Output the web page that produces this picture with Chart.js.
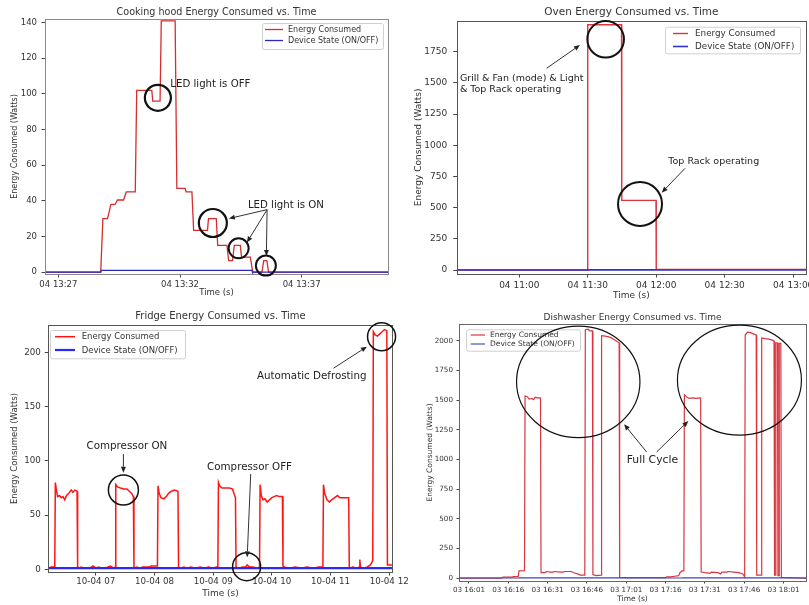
<!DOCTYPE html>
<html>
<head>
<meta charset="utf-8">
<script src="https://cdn.jsdelivr.net/npm/chart.js@4.4.1/dist/chart.umd.min.js"></script>
<style>
html, body { margin: 0; padding: 0; background: #fff; overflow: hidden; width: 809px; height: 605px; }
canvas { position: absolute; }
</style>
</head>
<body>
<canvas id="hood" width="400" height="300" style="left:0px;top:0px"></canvas>
<canvas id="oven" width="440" height="305" style="left:400px;top:0px"></canvas>
<canvas id="fridge" width="420" height="305" style="left:0px;top:300px"></canvas>
<canvas id="dish" width="409" height="305" style="left:400px;top:300px"></canvas>
<script>
// ---- cooking hood (minutes after 13:27) ----
const hoodTime   = [-0.55, 1.74, 1.83, 2.02, 2.16, 2.33, 2.43, 2.68, 2.79, 3.16, 3.22, 3.84, 3.88, 4.18, 4.23, 4.80, 4.87, 5.21, 5.25, 5.49, 5.56, 6.13, 6.17, 6.49, 6.55, 6.93, 7.00, 7.16, 7.23, 7.48, 7.53, 7.89, 7.99, 8.37, 8.44, 8.57, 8.64, 13.55];
const hoodEnergy = [0, 0, 30, 30, 38, 38, 40.5, 40.5, 45, 45, 102, 102, 96, 96, 141, 141, 47, 47, 45, 45, 23.5, 23.5, 30, 30, 15, 15, 6.5, 6.5, 15, 15, 8.5, 8.5, 0, 0, 6.5, 6.5, 0, 0];
const hoodStateTime = [-0.55, 1.74, 1.76, 7.96, 7.98, 13.55];
const hoodState     = [0, 0, 1, 1, 0, 0];
const hoodXTicks  = [0, 5, 10];
const hoodXLabels = ['04 13:27', '04 13:32', '04 13:37'];
const hoodYTicks  = [0, 20, 40, 60, 80, 100, 120, 140];

// ---- oven (minutes after 11:00) ----
const ovenTime   = [-27.4, 29.9, 30.0, 44.8, 44.9, 59.9, 60.0, 125.6];
const ovenEnergy = [0, 0, 1965, 1965, 558, 558, 5, 5];
const ovenStateTime = [-27.4, 30, 30, 60, 60, 125.6];
const ovenState     = [0, 0, 1, 1, 0, 0];
const ovenXTicks  = [0, 30, 60, 90, 120];
const ovenXLabels = ['04 11:00', '04 11:30', '04 12:00', '04 12:30', '04 13:00'];
const ovenYTicks  = [0, 250, 500, 750, 1000, 1250, 1500, 1750];

// ---- fridge (hour of day) ----
const fridgeTime = [6.19,6.24,6.30,6.31,6.33,6.35,6.38,6.41,6.44,6.47,6.50,6.54,6.58,6.61,6.64,6.68,6.69,6.72,6.75,6.80,6.85,6.90,6.95,7.00,7.05,7.10,7.20,7.25,7.30,7.33,
  7.34,7.37,7.42,7.48,7.53,7.57,7.61,7.64,7.65,7.70,7.75,7.80,7.90,7.95,8.00,8.05,
  8.06,8.08,8.11,8.16,8.20,8.24,8.29,8.34,8.40,8.41,8.45,8.50,8.55,8.62,8.70,8.78,8.85,8.92,9.00,9.05,9.08,
  9.09,9.11,9.15,9.22,9.28,9.33,9.36,9.38,9.39,9.44,9.50,9.55,9.58,9.62,9.68,9.75,9.79,
  9.80,9.82,9.85,9.88,9.92,9.96,10.00,10.04,10.08,10.13,10.18,10.19,10.22,10.30,10.40,10.50,10.60,10.70,10.80,10.87,
  10.88,10.90,10.94,10.98,11.02,11.07,11.12,11.16,11.22,11.31,11.32,11.38,11.45,11.49,11.50,11.51,11.56,11.62,11.68,11.70,11.72,
  11.73,11.76,11.80,11.84,11.88,11.92,11.96,11.97,12.06];
const fridgeEnergy = [1,2,2,80,72,67,68,66,67,64,68,70,73,71,73,72,2,1,2,1,1,1,3,1,2,1,2,3,1,2,
  78,76,75,74,74,72,70,67,1,2,1,2,2,3,3,3,
  77,70,66,65,67,70,72,73,72,2,1,2,1,2,1,2,1,2,1,2,2,
  80,77,75,75,75,74,69,66,2,1,2,2,4,2,2,1,2,
  78,68,64,65,62,64,66,67,68,67,67,3,2,1,2,1,2,1,2,2,
  78,70,64,62,64,66,68,66,66,66,1,2,1,2,9,2,1,2,4,6,8,
  219,216,215,217,219,221,220,4,4];
const fridgeStateTime = [6.19, 12.06];
const fridgeState     = [1, 1];
const fridgeXTicks  = [7, 8, 9, 10, 11, 12];
const fridgeXLabels = ['10-04 07', '10-04 08', '10-04 09', '10-04 10', '10-04 11', '10-04 12'];
const fridgeYTicks  = [0, 50, 100, 150, 200];

// ---- dishwasher (minutes after 16:01) ----
const dishTime = [-3.8,12.5,13.0,16.5,17.0,18.8,19.1,21.2,21.4,22.3,23.0,24.0,24.6,25.3,26.0,27.3,27.5,29.0,29.5,31.0,
  32.0,32.5,35.0,36.0,36.5,39.0,40.0,41.5,42.5,44.2,44.4,45.5,46.0,47.1,47.3,48.5,50.4,50.6,52.0,54.0,
  55.5,56.5,57.3,57.5,60.0,75.0,75.5,77.0,78.5,80.0,80.5,81.3,82.0,82.2,83.0,84.0,85.5,86.5,88.4,88.6,
  90.0,92.0,92.5,95.0,96.0,96.5,98.5,99.0,101.0,103.0,104.5,105.2,105.4,106.3,107.5,108.5,109.6,109.8,111.5,111.7,
  113.0,114.5,116.0,116.4,116.6,117.0,117.1,117.7,117.9,118.3,118.4,119.0,119.2,122.0,128.6];
const dishEnergy = [0,0,8,8,12,14,60,62,1535,1530,1510,1515,1505,1525,1520,1520,45,45,55,50,
  50,55,50,50,55,55,45,35,25,25,2095,2100,2085,2085,30,20,25,2045,2040,2030,
  2010,1995,1985,5,3,3,10,10,15,20,45,60,60,1545,1530,1515,1520,1515,1520,50,
  45,40,50,45,35,50,50,55,50,45,35,10,2050,2075,2070,2060,2050,25,25,2025,
  2020,2015,2005,2000,25,25,1985,1985,20,20,1980,1980,5,3,0];
const dishStateTime = [-3.8, 19.1, 19.1, 57.5, 57.5, 81.3, 81.3, 119.2, 119.2, 128.6];
const dishState     = [0, 0, 1, 1, 0, 0, 1, 1, 0, 0];
const dishXTicks  = [0, 15, 30, 45, 60, 75, 90, 105, 120];
const dishXLabels = ['03 16:01', '03 16:16', '03 16:31', '03 16:46', '03 17:01', '03 17:16', '03 17:31', '03 17:46', '03 18:01'];
const dishYTicks  = [0, 250, 500, 750, 1000, 1250, 1500, 1750, 2000];

const FONT = 'DejaVu Sans';

// frame, title, legend and annotations drawn on top
const deco = {
  id: 'deco',
  afterDraw(chart, args, o) {
    const ctx = chart.ctx, a = chart.chartArea, sx = chart.scales.x, sy = chart.scales.y;
    const X = v => sx.getPixelForValue(v), Y = v => sy.getPixelForValue(v);
    ctx.save();
    ctx.strokeStyle = o.frame;
    ctx.lineWidth = 1;
    ctx.strokeRect(Math.round(a.left) + 0.5, Math.round(a.top) + 0.5, Math.round(a.right - a.left), Math.round(a.bottom - a.top));

    ctx.fillStyle = '#333';
    ctx.font = o.titleSize + 'px ' + FONT;
    ctx.textAlign = 'center';
    ctx.textBaseline = 'middle';
    ctx.fillText(o.title, (a.left + a.right) / 2, o.titleY);

    // legend box
    const L = o.legend;
    ctx.fillStyle = 'rgba(255,255,255,0.85)';
    ctx.strokeStyle = '#d0d0d0';
    ctx.beginPath();
    ctx.roundRect(L.x + 0.5, L.y + 0.5, L.w, L.h, 2);
    ctx.fill();
    ctx.stroke();
    ctx.font = L.font + 'px ' + FONT;
    ctx.textAlign = 'left';
    chart.data.datasets.slice().reverse().forEach((ds, i) => {
      const yy = L.rows[i];
      ctx.strokeStyle = ds.borderColor;
      ctx.lineWidth = ds.borderWidth;
      ctx.beginPath();
      ctx.moveTo(L.x1, yy);
      ctx.lineTo(L.x2, yy);
      ctx.stroke();
      ctx.fillStyle = '#333';
      ctx.fillText(ds.label, L.tx, yy + 0.5);
    });

    // annotations
    ctx.strokeStyle = '#111';
    ctx.fillStyle = '#111';
    ctx.font = o.noteSize + 'px ' + FONT;
    o.notes.forEach(n => {
      if (n.c === 'circle' || n.c === 'ellipse') {
        ctx.lineWidth = n.w;
        ctx.beginPath();
        ctx.ellipse(X(n.x), Y(n.y), n.rx || n.r, n.ry || n.r, 0, 0, Math.PI * 2);
        ctx.stroke();
      } else if (n.c === 'text') {
        ctx.fillStyle = '#222';
        ctx.textAlign = n.align || 'center';
        ctx.fillText(n.text, X(n.x), Y(n.y));
      } else if (n.c === 'arrow') {
        const x1 = X(n.x1), y1 = Y(n.y1), x2 = X(n.x2), y2 = Y(n.y2);
        const ang = Math.atan2(y2 - y1, x2 - x1);
        const hl = 6, hw = 2.5;
        ctx.strokeStyle = '#333';
        ctx.fillStyle = '#222';
        ctx.lineWidth = 1;
        ctx.beginPath();
        ctx.moveTo(x1, y1);
        ctx.lineTo(x2 - hl * Math.cos(ang), y2 - hl * Math.sin(ang));
        ctx.stroke();
        ctx.beginPath();
        ctx.moveTo(x2, y2);
        ctx.lineTo(x2 - hl * Math.cos(ang) + hw * Math.sin(ang), y2 - hl * Math.sin(ang) - hw * Math.cos(ang));
        ctx.lineTo(x2 - hl * Math.cos(ang) - hw * Math.sin(ang), y2 - hl * Math.sin(ang) + hw * Math.cos(ang));
        ctx.closePath();
        ctx.fill();
        ctx.strokeStyle = '#111';
      }
    });
    ctx.restore();
  }
};

function pts(xs, ys) {
  return xs.map((t, i) => ({ x: t, y: ys[i] }));
}

function panel(id, p) {
  const cv = document.getElementById(id);
  const W = cv.width, H = cv.height;
  return new Chart(cv, {
    type: 'line',
    data: {
      datasets: [
        { label: 'Device State (ON/OFF)', data: pts(p.stateT, p.state), borderColor: p.blue, borderWidth: p.blueW },
        { label: 'Energy Consumed', data: pts(p.t, p.e), borderColor: p.red, borderWidth: p.redW }
      ]
    },
    options: {
      responsive: false,
      animation: false,
      devicePixelRatio: 1,
      layout: { padding: { left: 0, top: p.area.top, right: W - p.area.right, bottom: 0 } },
      elements: { point: { radius: 0 }, line: { tension: 0, fill: false, borderJoinStyle: 'miter' } },
      plugins: {
        legend: { display: false },
        tooltip: { enabled: false },
        deco: p.deco
      },
      scales: {
        x: {
          type: 'linear', min: p.xMin, max: p.xMax,
          afterBuildTicks: ax => { ax.ticks = p.xTicks.map(v => ({ value: v })); },
          afterFit: s => { s.height = H - p.area.bottom; },
          ticks: {
            autoSkip: false, maxRotation: 0, minRotation: 0,
            font: { family: FONT, size: p.tickSize }, color: '#333', padding: p.xPad,
            callback: v => p.xLabels[p.xTicks.indexOf(v)]
          },
          grid: { display: true, drawOnChartArea: false, drawTicks: true, tickLength: p.tickLen, tickColor: '#444' },
          border: { display: false },
          title: { display: true, text: 'Time (s)', color: '#333', font: { family: FONT, size: p.xTitleSize }, padding: { top: 0, bottom: p.xTitlePad } }
        },
        y: {
          type: 'linear', min: p.yMin, max: p.yMax,
          afterBuildTicks: ax => { ax.ticks = p.yTicks.map(v => ({ value: v })); },
          afterFit: s => { s.width = p.area.left; },
          ticks: {
            font: { family: FONT, size: p.yTickSize || p.tickSize }, color: '#333', padding: p.yPad,
            callback: v => String(v)
          },
          grid: { display: true, drawOnChartArea: false, drawTicks: true, tickLength: p.tickLen, tickColor: '#444' },
          border: { display: false },
          title: { display: true, text: 'Energy Consumed (Watts)', color: '#333', font: { family: FONT, size: p.yTitleSize }, padding: { top: p.yTitlePad, bottom: 0 } }
        }
      }
    },
    plugins: [deco]
  });
}

panel('hood', {
  t: hoodTime, e: hoodEnergy, stateT: hoodStateTime, state: hoodState,
  red: 'rgb(214,45,45)', redW: 1.3, blue: 'rgb(40,40,200)', blueW: 1.3,
  xMin: -0.55, xMax: 13.55, yMin: -1, yMax: 142,
  xTicks: hoodXTicks, xLabels: hoodXLabels, yTicks: hoodYTicks,
  area: { left: 45, top: 19, right: 388, bottom: 274 },
  tickSize: 8.5, tickLen: 3.5, xPad: 2.5, yPad: 4.5,
  xTitleSize: 8.5, xTitlePad: 2, yTitleSize: 8, yTitlePad: 10,
  deco: {
    title: 'Cooking hood Energy Consumed vs. Time', titleSize: 9.6, titleY: 12.3, noteSize: 10.2, frame: '#8a8a8a',
    legend: { x: 262, y: 23, w: 121, h: 26, rows: [29.5, 40.5], x1: 265, x2: 283, tx: 288, font: 8 },
    notes: [
      { c: 'circle', x: 4.09, y: 97.8, r: 13, w: 2.2 },
      { c: 'text', x: 4.6, y: 105.6, text: 'LED light is OFF', align: 'left' },
      { c: 'circle', x: 6.35, y: 27.6, r: 14, w: 2.2 },
      { c: 'circle', x: 7.41, y: 13.4, r: 10, w: 2 },
      { c: 'circle', x: 8.53, y: 3.7, r: 10, w: 2 },
      { c: 'text', x: 7.79, y: 37.5, text: 'LED light is ON', align: 'left' },
      { c: 'arrow', x1: 8.58, y1: 35.1, x2: 7.01, y2: 30.1 },
      { c: 'arrow', x1: 8.58, y1: 35.1, x2: 7.75, y2: 16.7 },
      { c: 'arrow', x1: 8.58, y1: 35.1, x2: 8.55, y2: 9.1 }
    ]
  }
});

panel('oven', {
  t: ovenTime, e: ovenEnergy, stateT: ovenStateTime, state: ovenState,
  red: 'rgb(222,50,60)', redW: 1.4, blue: 'rgb(50,50,200)', blueW: 1.6,
  xMin: -27.4, xMax: 125.6, yMin: -32, yMax: 1998,
  xTicks: ovenXTicks, xLabels: ovenXLabels, yTicks: ovenYTicks,
  area: { left: 56.7, top: 20.7, right: 406, bottom: 274 },
  tickSize: 9, tickLen: 3.5, xPad: 2.5, yPad: 6,
  xTitleSize: 9, xTitlePad: 3.5, yTitleSize: 9, yTitlePad: 13,
  deco: {
    title: 'Oven Energy Consumed vs. Time', titleSize: 10.5, titleY: 12.3, noteSize: 9.5, frame: '#555',
    legend: { x: 265, y: 26.7, w: 135, h: 26.6, rows: [33.5, 46.5], x1: 273, x2: 288, tx: 295, font: 8.8 },
    notes: [
      { c: 'circle', x: 37.85, y: 1849, r: 18.3, w: 2 },
      { c: 'text', x: -26, y: 1537, text: 'Grill & Fan (mode) & Light', align: 'left' },
      { c: 'text', x: -26, y: 1443, text: '& Top Rack operating', align: 'left' },
      { c: 'arrow', x1: 12.0, y1: 1617, x2: 26.6, y2: 1803 },
      { c: 'circle', x: 52.9, y: 529, r: 22, w: 2 },
      { c: 'text', x: 65.3, y: 868, text: 'Top Rack operating', align: 'left' },
      { c: 'arrow', x1: 72.6, y1: 815, x2: 62.4, y2: 620 }
    ]
  }
});

panel('fridge', {
  t: fridgeTime, e: fridgeEnergy, stateT: fridgeStateTime, state: fridgeState,
  red: 'rgb(255,20,20)', redW: 1.5, blue: 'rgb(40,40,255)', blueW: 2.2,
  xMin: 6.19, xMax: 12.06, yMin: -2.5, yMax: 225.2,
  xTicks: fridgeXTicks, xLabels: fridgeXLabels, yTicks: fridgeYTicks,
  area: { left: 48.3, top: 25, right: 392.7, bottom: 272 },
  tickSize: 8.7, tickLen: 3.5, xPad: 1.5, yPad: 4,
  xTitleSize: 9, xTitlePad: 6, yTitleSize: 8.5, yTitlePad: 10,
  deco: {
    title: 'Fridge Energy Consumed vs. Time', titleSize: 10, titleY: 16, noteSize: 10.3, frame: '#555',
    legend: { x: 50, y: 30, w: 135, h: 28.3, rows: [36.7, 50], x1: 55, x2: 75, tx: 81.7, font: 8.5 },
    notes: [
      { c: 'circle', x: 7.47, y: 73.1, r: 15, w: 1.5 },
      { c: 'text', x: 7.53, y: 113.6, text: 'Compressor ON' },
      { c: 'arrow', x1: 7.47, y1: 106.3, x2: 7.47, y2: 89 },
      { c: 'circle', x: 9.57, y: 2.4, r: 14, w: 1.5 },
      { c: 'text', x: 9.62, y: 93.6, text: 'Compressor OFF' },
      { c: 'arrow', x1: 9.64, y1: 87.8, x2: 9.58, y2: 11 },
      { c: 'circle', x: 11.87, y: 214.4, r: 14, w: 1.5 },
      { c: 'text', x: 10.68, y: 178.2, text: 'Automatic Defrosting' },
      { c: 'arrow', x1: 11.05, y1: 185.3, x2: 11.62, y2: 205.2 }
    ]
  }
});

panel('dish', {
  t: dishTime, e: dishEnergy, stateT: dishStateTime, state: dishState,
  red: 'rgb(215,55,65)', redW: 1.2, blue: 'rgb(55,70,190)', blueW: 1.1,
  xMin: -3.8, xMax: 128.6, yMin: -25, yMax: 2143,
  xTicks: dishXTicks, xLabels: dishXLabels, yTicks: dishYTicks,
  area: { left: 59, top: 24, right: 406, bottom: 281 },
  tickSize: 7.2, tickLen: 2.5, xPad: 2.5, yPad: 3.5, yTickSize: 7.2,
  xTitleSize: 7.5, xTitlePad: 1.2, yTitleSize: 7.5, yTitlePad: 25.5,
  deco: {
    title: 'Dishwasher Energy Consumed vs. Time', titleSize: 9, titleY: 17.3, noteSize: 10.8, frame: '#666',
    legend: { x: 66, y: 29.3, w: 114, h: 21.4, rows: [35, 44], x1: 70.7, x2: 85, tx: 90, font: 7.5 },
    notes: [
      { c: 'ellipse', x: 41.7, y: 1655, rx: 61.7, ry: 55.7, w: 1.2 },
      { c: 'ellipse', x: 103.2, y: 1670, rx: 62, ry: 55, w: 1.2 },
      { c: 'text', x: 70.0, y: 993, text: 'Full Cycle' },
      { c: 'arrow', x1: 67.8, y1: 1063, x2: 59.2, y2: 1297 },
      { c: 'arrow', x1: 71.6, y1: 1063, x2: 83.7, y2: 1325 }
    ]
  }
});
</script>
</body>
</html>
